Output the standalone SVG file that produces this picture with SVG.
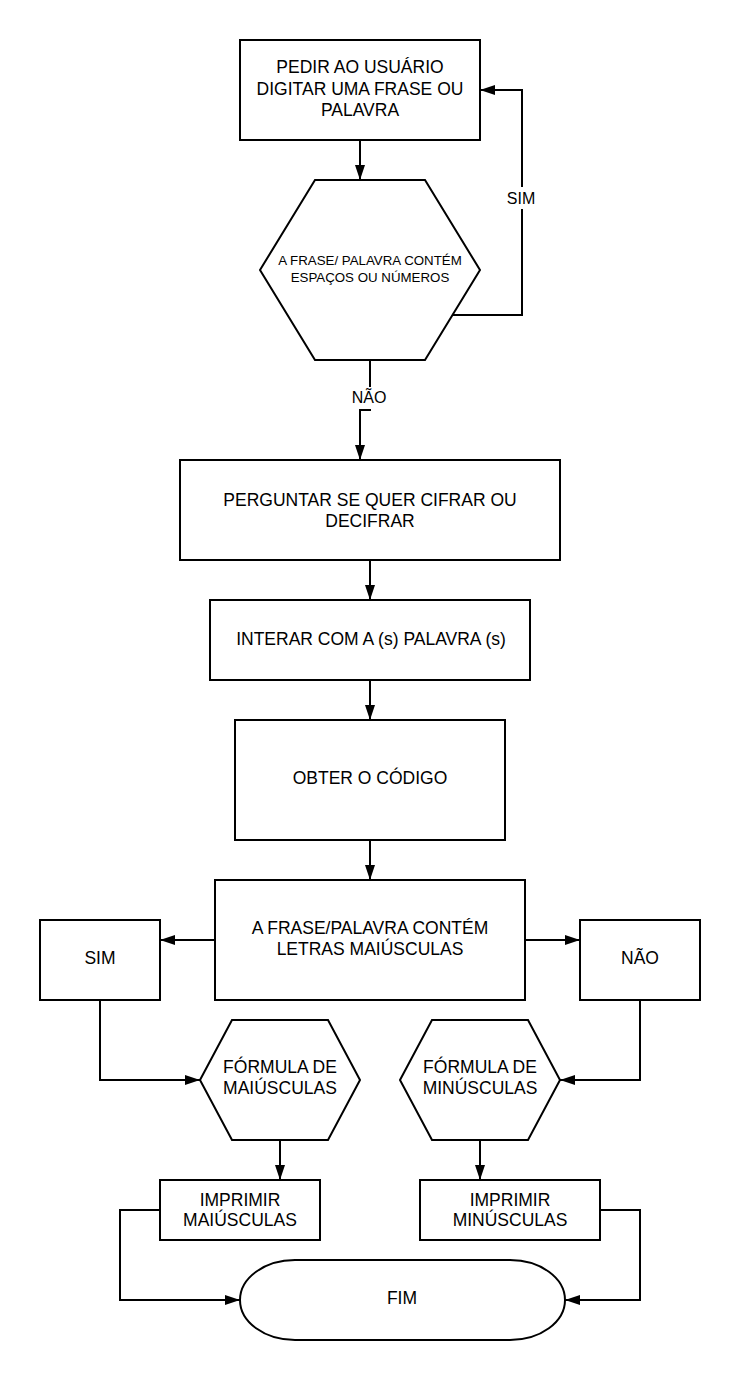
<svg xmlns="http://www.w3.org/2000/svg" width="740" height="1380" viewBox="0 0 740 1380">
  <style>
    .shape { fill: #ffffff; stroke: #000000; stroke-width: 2; }
    .edge { fill: none; stroke: #000000; stroke-width: 2; }
    .t { font-family: "Liberation Sans", Arial, sans-serif; font-size: 17.5px; fill: #000000; text-anchor: middle; }
    .ts { font-family: "Liberation Sans", Arial, sans-serif; font-size: 13.3px; fill: #000000; text-anchor: middle; }
    .lbl { font-family: "Liberation Sans", Arial, sans-serif; font-size: 16px; fill: #000000; text-anchor: middle; }
    .lblbg { fill: #ffffff; stroke: none; }
  </style>
  <defs>
    <marker id="arrow" markerUnits="userSpaceOnUse" markerWidth="15" markerHeight="10" refX="15" refY="5" orient="auto">
      <path d="M0,0 L15,5 L0,10 Z" fill="#000000"/>
    </marker>
  </defs>
  <rect width="740" height="1380" fill="#ffffff"/>

  <g id="connectors">
    <path class="edge" d="M360,140 L360,180" marker-end="url(#arrow)"/>
    <path class="edge" d="M452.5,315 L522,315 L522,90 L480,90" marker-end="url(#arrow)"/>
    <path class="edge" d="M370,360 L370,410 L360,410 L360,460" marker-end="url(#arrow)"/>
    <path class="edge" d="M370,560 L370,600" marker-end="url(#arrow)"/>
    <path class="edge" d="M370,680 L370,720" marker-end="url(#arrow)"/>
    <path class="edge" d="M370,840 L370,880" marker-end="url(#arrow)"/>
    <path class="edge" d="M215,940 L160,940" marker-end="url(#arrow)"/>
    <path class="edge" d="M525,940 L580,940" marker-end="url(#arrow)"/>
    <path class="edge" d="M100,1000 L100,1080 L200,1080" marker-end="url(#arrow)"/>
    <path class="edge" d="M640,1000 L640,1080 L560,1080" marker-end="url(#arrow)"/>
    <path class="edge" d="M280,1140 L280,1180" marker-end="url(#arrow)"/>
    <path class="edge" d="M480,1140 L480,1180" marker-end="url(#arrow)"/>
    <path class="edge" d="M160,1210 L120,1210 L120,1300 L240,1300" marker-end="url(#arrow)"/>
    <path class="edge" d="M600,1210 L640,1210 L640,1300 L565,1300" marker-end="url(#arrow)"/>
    <g id="label-sim">
      <rect class="lblbg" x="504" y="187" width="36" height="22"/>
      <text class="lbl" x="521" y="203.5">SIM</text>
    </g>
    <g id="label-nao">
      <rect class="lblbg" x="348" y="387" width="38" height="22"/>
      <text class="lbl" x="369" y="403">NÃO</text>
    </g>
  </g>

  <g id="pedir">
    <rect class="shape" x="240" y="40" width="240" height="100"/>
    <text class="t" x="360" y="73">PEDIR AO USUÁRIO</text>
    <text class="t" x="360" y="94.5">DIGITAR UMA FRASE OU</text>
    <text class="t" x="360" y="115.5">PALAVRA</text>
  </g>

  <g id="verifica">
    <polygon class="shape" points="260,270 315,180 425,180 480,270 425,360 315,360"/>
    <text class="ts" x="370" y="265">A FRASE/ PALAVRA CONTÉM</text>
    <text class="ts" x="370" y="282">ESPAÇOS OU NÚMEROS</text>
  </g>

  <g id="perguntar">
    <rect class="shape" x="180" y="460" width="380" height="100"/>
    <text class="t" x="370" y="506">PERGUNTAR SE QUER CIFRAR OU</text>
    <text class="t" x="370" y="527">DECIFRAR</text>
  </g>

  <g id="interar">
    <rect class="shape" x="210" y="600" width="320" height="80"/>
    <text class="t" x="371" y="645">INTERAR COM A (s) PALAVRA (s)</text>
  </g>

  <g id="obter">
    <rect class="shape" x="235" y="720" width="270" height="120"/>
    <text class="t" x="370" y="784">OBTER O CÓDIGO</text>
  </g>

  <g id="maiusculas-check">
    <rect class="shape" x="215" y="880" width="310" height="120"/>
    <text class="t" x="370" y="934">A FRASE/PALAVRA CONTÉM</text>
    <text class="t" x="370" y="955">LETRAS MAIÚSCULAS</text>
  </g>

  <g id="sim">
    <rect class="shape" x="40" y="920" width="120" height="80"/>
    <text class="t" x="100" y="964">SIM</text>
  </g>

  <g id="nao">
    <rect class="shape" x="580" y="920" width="120" height="80"/>
    <text class="t" x="640" y="964">NÃO</text>
  </g>

  <g id="formula-maiusculas">
    <polygon class="shape" points="200,1080 232,1020 328,1020 360,1080 328,1140 232,1140"/>
    <text class="t" x="280" y="1073">FÓRMULA DE</text>
    <text class="t" x="280" y="1094">MAIÚSCULAS</text>
  </g>

  <g id="formula-minusculas">
    <polygon class="shape" points="400,1080 432,1020 528,1020 560,1080 528,1140 432,1140"/>
    <text class="t" x="480" y="1073">FÓRMULA DE</text>
    <text class="t" x="480" y="1094">MINÚSCULAS</text>
  </g>

  <g id="imprimir-maiusculas">
    <rect class="shape" x="160" y="1180" width="160" height="60"/>
    <text class="t" x="240" y="1206">IMPRIMIR</text>
    <text class="t" x="240" y="1226">MAIÚSCULAS</text>
  </g>

  <g id="imprimir-minusculas">
    <rect class="shape" x="420" y="1180" width="180" height="60"/>
    <text class="t" x="510" y="1206">IMPRIMIR</text>
    <text class="t" x="510" y="1226">MINÚSCULAS</text>
  </g>

  <g id="fim">
    <path class="shape" d="M295,1260 H510 A55,40 0 0 1 510,1340 H295 A55,40 0 0 1 295,1260 Z"/>
    <text class="t" x="402" y="1304">FIM</text>
  </g>
</svg>
